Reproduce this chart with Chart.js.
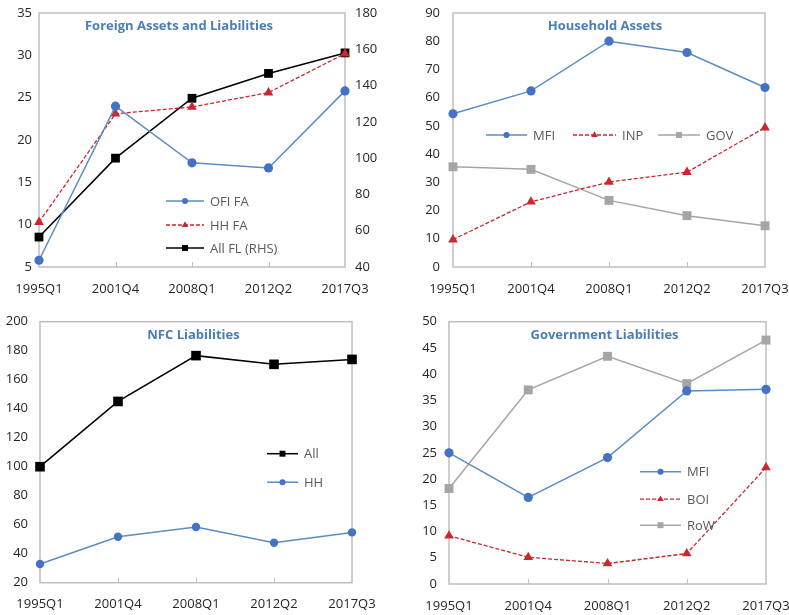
<!DOCTYPE html>
<html>
<head>
<meta charset="utf-8">
<script src="https://cdn.jsdelivr.net/npm/chart.js@4/dist/chart.umd.min.js"></script>
<style>
  html, body { margin: 0; padding: 0; background: #fff; overflow: hidden; }
  #wrap { position: relative; width: 789px; height: 615px; }
  .panel { position: absolute; }
</style>
</head>
<body>
<div id="wrap">
  <div class="panel" style="left:0;top:0;width:395px;height:300px"><canvas id="c1"></canvas></div>
  <div class="panel" style="left:395px;top:0;width:394px;height:300px"><canvas id="c2"></canvas></div>
  <div class="panel" style="left:0;top:300px;width:395px;height:315px"><canvas id="c3"></canvas></div>
  <div class="panel" style="left:395px;top:300px;width:394px;height:315px"><canvas id="c4"></canvas></div>
</div>
<script>
// Quarters shared by all four panels
const categories = ['1995Q1', '2001Q4', '2008Q1', '2012Q2', '2017Q3'];

// Foreign assets and liabilities
const ofiFA = [5.8, 24.0, 17.3, 16.7, 25.8];
const hhFA = [10.3, 23.1, 23.9, 25.6, 30.2];
const allFL = [56.5, 100.0, 133.0, 146.7, 158.0];   // right-hand scale

// Household assets
const hhMFI = [54.3, 62.4, 80.0, 76.0, 63.6];
const hhINP = [9.7, 23.1, 30.1, 33.6, 49.4];
const hhGOV = [35.5, 34.6, 23.6, 18.2, 14.6];

// NFC liabilities
const nfcAll = [100.0, 145.0, 176.6, 170.6, 174.0];
const nfcHH = [32.9, 51.7, 58.4, 47.6, 54.7];

// Government liabilities
const govMFI = [25.0, 16.5, 24.1, 36.8, 37.1];
const govBOI = [9.2, 5.1, 3.9, 5.8, 22.2];
const govRoW = [18.2, 37.0, 43.4, 38.2, 46.5];

const FONT = "'Open Sans', 'Noto Sans', sans-serif";
const BLUE_LINE = '#5b8cc4', BLUE_PT = '#4472c4';
const RED = '#c8282e';
const GREY = '#a5a5a5';
const FRAME = '#bfbfbf';
const TICK_COLOR = '#262626';

function blueSeries(label, data, r) {
  return { label, data, borderColor: BLUE_LINE, backgroundColor: BLUE_PT, pointBackgroundColor: BLUE_PT,
    pointBorderColor: BLUE_PT, borderWidth: 1.5, pointStyle: 'circle', pointRadius: r || 4.6, legendR: 3 };
}
function redSeries(label, data) {
  return { label, data, borderColor: RED, backgroundColor: RED, pointBackgroundColor: RED,
    pointBorderColor: RED, borderWidth: 1.3, borderDash: [4, 2], pointStyle: 'triangle', pointRadius: 5.6, legendR: 3.8 };
}
function blackSeries(label, data, r) {
  return { label, data, borderColor: '#000', backgroundColor: '#000', pointBackgroundColor: '#000',
    pointBorderColor: '#000', borderWidth: 1.5, pointStyle: 'rect', pointRadius: r || 6.2, legendR: 4.2 };
}
function greySeries(label, data) {
  return { label, data, borderColor: GREY, backgroundColor: GREY, pointBackgroundColor: GREY,
    pointBorderColor: GREY, borderWidth: 1.5, pointStyle: 'rect', pointRadius: 6.3, legendR: 4.2 };
}

function marker(ctx, style, x, y, r) {
  ctx.beginPath();
  if (style === 'circle') {
    ctx.arc(x, y, r, 0, Math.PI * 2);
  } else if (style === 'triangle') {
    ctx.moveTo(x, y - r);
    ctx.lineTo(x + r * 0.866, y + r * 0.5);
    ctx.lineTo(x - r * 0.866, y + r * 0.5);
    ctx.closePath();
  } else {
    const s = r * Math.SQRT1_2;
    ctx.rect(x - s, y - s, 2 * s, 2 * s);
  }
  ctx.fill();
}

// Frame, inner x tick marks, panel title and in-plot legend
const decor = {
  id: 'decor',
  beforeDatasetsDraw(chart) {
    const a = chart.chartArea, ctx = chart.ctx;
    ctx.save();
    ctx.strokeStyle = FRAME;
    ctx.lineWidth = 1.5;
    ctx.strokeRect(a.left, a.top, a.right - a.left, a.bottom - a.top);
    const xs = chart.scales.x;
    ctx.lineWidth = 1;
    for (let i = 1; i < categories.length - 1; i++) {
      const px = Math.round(xs.getPixelForValue(i)) + 0.5;
      ctx.beginPath();
      ctx.moveTo(px, a.bottom);
      ctx.lineTo(px, a.bottom - 5);
      ctx.stroke();
    }
    ctx.restore();
  },
  afterDraw(chart) {
    const o = chart.options.plugins.decor, a = chart.chartArea, ctx = chart.ctx;
    ctx.save();
    ctx.font = "bold 13px " + FONT;
    ctx.fillStyle = '#4a7eb5';
    ctx.textAlign = 'center';
    ctx.textBaseline = 'middle';
    ctx.fillText(o.title, (a.left + a.right) / 2 + o.titleDx, a.top + o.titleDy);

    ctx.font = "13px " + FONT;
    ctx.textAlign = 'left';
    chart.data.datasets.forEach((ds, i) => {
      const p = o.legend[i];
      const x0 = a.left + p[0], y = a.top + p[1], len = p[2];
      ctx.strokeStyle = ds.borderColor;
      ctx.lineWidth = ds.borderWidth;
      ctx.setLineDash(ds.borderDash || []);
      ctx.beginPath();
      ctx.moveTo(x0, y);
      ctx.lineTo(x0 + len, y);
      ctx.stroke();
      ctx.setLineDash([]);
      ctx.fillStyle = ds.pointBackgroundColor;
      marker(ctx, ds.pointStyle, x0 + len / 2, y, ds.legendR);
      ctx.fillStyle = '#595959';
      ctx.fillText(ds.label, x0 + len + 6, y + 1);
    });
    ctx.restore();
  }
};

function yAxis(min, max, step, width, pad, position) {
  return {
    position: position || 'left', min, max,
    border: { display: false },
    grid: { display: false, drawTicks: false },
    ticks: { stepSize: step, padding: pad, color: TICK_COLOR, font: { family: FONT, size: 13 } },
    afterFit(s) { s.width = width; s.paddingTop = 0; s.paddingBottom = 0; }
  };
}

function makePanel(id, datasets, scales, pad, xHeight, decorOpts) {
  scales.x = {
    type: 'category', labels: categories, offset: false,
    border: { display: false },
    grid: { display: false, drawTicks: false },
    ticks: { padding: 14, color: TICK_COLOR, maxRotation: 0, autoSkip: false, font: { family: FONT, size: 13 } },
    afterFit(s) { s.height = xHeight; s.paddingLeft = 0; s.paddingRight = 0; }
  };
  datasets.forEach(d => { d.clip = false; d.tension = 0; d.fill = false; d.pointBorderWidth = 0; d.pointHoverRadius = d.pointRadius; });
  new Chart(document.getElementById(id), {
    type: 'line',
    data: { labels: categories, datasets },
    options: {
      responsive: true, maintainAspectRatio: false, animation: false,
      layout: { padding: pad },
      plugins: { legend: { display: false }, tooltip: { enabled: false }, decor: decorOpts },
      scales
    },
    plugins: [decor]
  });
}

// Foreign Assets and Liabilities
makePanel('c1',
  [blueSeries('OFI FA', ofiFA), redSeries('HH FA', hhFA), Object.assign(blackSeries('All FL (RHS)', allFL), { yAxisID: 'y1' })],
  { y: yAxis(5, 35, 5, 39, 7), y1: yAxis(40, 180, 20, 50, 10, 'right') },
  { top: 13, right: 0, left: 0, bottom: 0 }, 33,
  { title: 'Foreign Assets and Liabilities', titleDx: -13, titleDy: 13.7,
    legend: [[127, 188, 38], [127, 212, 38], [127, 235, 38]] });

// Household Assets
makePanel('c2',
  [blueSeries('MFI', hhMFI), redSeries('INP', hhINP), greySeries('GOV', hhGOV)],
  { y: yAxis(0, 90, 10, 58, 13) },
  { top: 13, right: 24, left: 0, bottom: 0 }, 33,
  { title: 'Household Assets', titleDx: -4, titleDy: 13,
    legend: [[33, 122, 41], [120, 122, 43], [205, 122, 42]] });

// NFC Liabilities
makePanel('c3',
  [blackSeries('All', nfcAll, 6.8), blueSeries('HH', nfcHH, 4.2)],
  { y: yAxis(20, 200, 20, 40, 12) },
  { top: 21.7, right: 43, left: 0, bottom: 0 }, 32.3,
  { title: 'NFC Liabilities', titleDx: -2.5, titleDy: 13.3,
    legend: [[227, 132, 31], [227, 160.5, 31]] });

// Government Liabilities
makePanel('c4',
  [blueSeries('MFI', govMFI), redSeries('BOI', govBOI), greySeries('RoW', govRoW)],
  { y: yAxis(0, 50, 5, 54, 12) },
  { top: 21.7, right: 23, left: 0, bottom: 0 }, 31,
  { title: 'Government Liabilities', titleDx: -3, titleDy: 14,
    legend: [[191, 150, 41], [191, 177.5, 41], [191, 203.5, 41]] });
</script>
</body>
</html>
